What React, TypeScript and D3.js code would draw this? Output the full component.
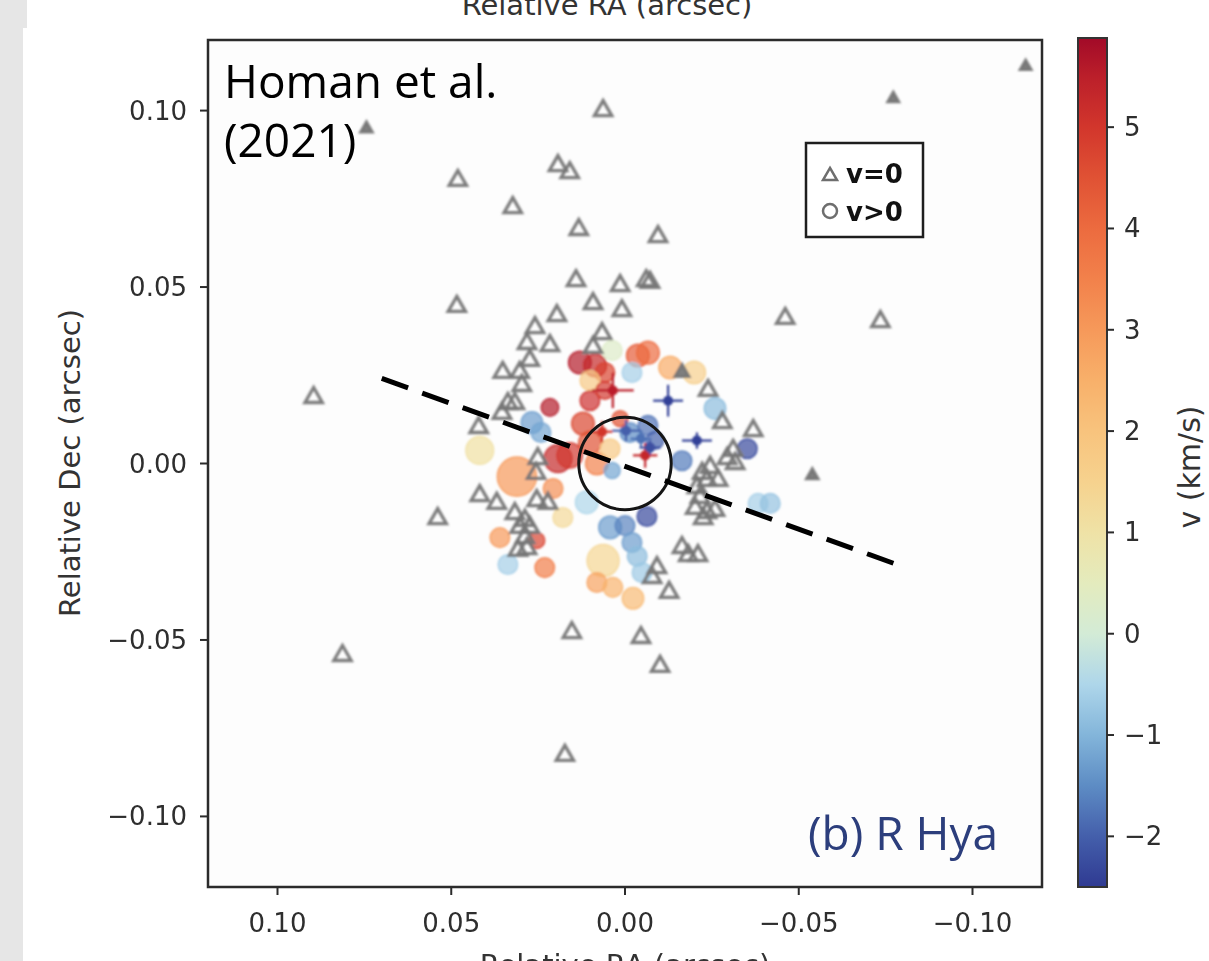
import React from 'react';
import * as d3 from 'd3';

// ---------- data ----------
const xTicks = [0.1, 0.05, 0, -0.05, -0.1];
const yTicks = [0.1, 0.05, 0, -0.05, -0.1];
const cbTicks = [5, 4, 3, 2, 1, 0, -1, -2];
const vRange = [-2.5, 5.88];

// v = 0 components (triangles)
const triX = [-0.1153, -0.0772, 0.0744, 0.0063, 0.0481, 0.0193, 0.0159, 0.0323, 0.0133, -0.0095,
  0.0141, 0.0014, -0.0061, -0.0072, 0.0484, 0.0092, 0.0009, 0.0196, -0.0461, -0.0735,
  0.0259, 0.0282, 0.0216, 0.0066, 0.0092, 0.0274, 0.0352, 0.0303, 0.0297, 0.0337,
  0.0317, 0.0354, 0.0421, 0.0896, 0.0251, 0.0256, 0.0418, 0.0369, 0.0539, 0.0317,
  0.0254, 0.0222, 0.0288, 0.0303, 0.0274, 0.0288, 0.0282, 0.0308, 0.0813, 0.0153,
  -0.0046, -0.0101, 0.0173, -0.0539, -0.0164, -0.0239, -0.0280, -0.0369, -0.0311, -0.0294,
  -0.0245, -0.0222, -0.0236, -0.0268, -0.0207, -0.0202, -0.0236, -0.0259, -0.0225, -0.0164,
  -0.0182, -0.0210, -0.0092, -0.0078, -0.0127, -0.0317, -0.0216];
const triY = [0.1125, 0.1034, 0.0949, 0.1000, 0.0802, 0.0844, 0.0824, 0.0725, 0.0663, 0.0643,
  0.0518, 0.0504, 0.0518, 0.0513, 0.0445, 0.0453, 0.0433, 0.0419, 0.0411, 0.0402,
  0.0385, 0.0340, 0.0334, 0.0368, 0.0329, 0.0292, 0.0258, 0.0258, 0.0221, 0.0170,
  0.0170, 0.0142, 0.0102, 0.0187, 0.0014, -0.0028, -0.0091, -0.0113, -0.0156, -0.0142,
  -0.0105, -0.0113, -0.0161, -0.0181, -0.0181, -0.0210, -0.0241, -0.0246, -0.0544, -0.0479,
  -0.0493, -0.0575, -0.0827, -0.0034, 0.0258, 0.0207, 0.0116, 0.0093, 0.0037, 0.0014,
  -0.0011, -0.0028, -0.0048, -0.0048, -0.0068, -0.0127, -0.0139, -0.0133, -0.0156, -0.0238,
  -0.0261, -0.0261, -0.0295, -0.0323, -0.0365, 0.0000, -0.0096];
const triFlux = [0.35, 0.35, 0.4, 1, 1, 1, 1, 1, 1, 1,
  1, 1, 1, 1, 1, 1, 1, 1, 1, 1,
  1, 1, 1, 1, 1, 1, 1, 1, 1, 1,
  1, 1, 1, 1, 1, 1, 1, 1, 1, 1,
  1, 1, 1, 1, 1, 1, 1, 1, 1, 1,
  1, 1, 1, 0.4, 0.6, 1, 1, 1, 1, 1,
  1, 1, 1, 1, 1, 1, 1, 1, 1, 1,
  1, 1, 1, 1, 1, 1, 1];

// v > 0 components (circles)
const cirX = [0.0130, 0.0086, 0.0058, 0.0101, 0.0037, -0.0037, -0.0066, -0.0020, -0.0130, -0.0199,
  -0.0259, 0.0216, 0.0101, 0.0268, 0.0242, 0.0418, 0.0193, 0.0159, 0.0311, 0.0121,
  0.0101, 0.0081, 0.0043, 0.0037, -0.0014, -0.0066, -0.0086, 0.0014, -0.0352, -0.0164,
  -0.0063, -0.0383, -0.0418, 0.0110, 0.0179, 0.0043, 0.0000, -0.0020, -0.0035, -0.0049,
  0.0063, 0.0081, 0.0035, -0.0023, 0.0360, 0.0254, 0.0337, 0.0231, 0.0207, 0.0058];
const cirY = [0.0286, 0.0278, 0.0258, 0.0235, 0.0320, 0.0306, 0.0314, 0.0258, 0.0272, 0.0258,
  0.0156, 0.0159, 0.0178, 0.0116, 0.0088, 0.0037, 0.0014, 0.0023, -0.0037, 0.0113,
  0.0059, 0.0000, 0.0042, -0.0020, 0.0088, 0.0108, 0.0065, 0.0127, 0.0042, 0.0008,
  -0.0150, -0.0113, -0.0113, -0.0110, -0.0153, -0.0181, -0.0176, -0.0224, -0.0263, -0.0309,
  -0.0275, -0.0337, -0.0351, -0.0382, -0.0210, -0.0218, -0.0286, -0.0295, -0.0071, 0.0207];
const cirV = [5.6, 5.3, 4.8, 1.8, 0.3, 4.3, 4.0, -0.6, 2.6, 1.6,
  -0.9, 5.6, 5.1, -1.3, -1.2, 1.1, 5.3, 5.0, 3.0, 4.7,
  4.5, 3.5, 1.8, -1.2, -1.5, -1.8, -2.0, 4.5, -2.3, -1.7,
  -2.3, -0.6, -0.8, -0.5, 1.3, -1.3, -1.6, -1.3, -0.9, -0.7,
  1.4, 2.8, 2.4, 2.2, 3.0, 4.8, -0.6, 3.6, 3.2, 5.0];
const cirFlux = [2, 2, 1.5, 1.5, 1.5, 2, 2, 1.5, 2, 2,
  1.8, 1.2, 1.5, 1.8, 1.5, 3, 3, 2.5, 6, 2,
  2, 2, 1.5, 1, 1.5, 1.5, 1.2, 1, 1.5, 1.5,
  1.5, 1.5, 1.5, 2, 1.5, 2, 1.5, 1.5, 1.5, 1.5,
  4, 1.5, 1.5, 1.8, 1.5, 1, 1.5, 1.5, 1.5, 1.2];

// components with error bars
const errX = [0.0035, -0.0124, -0.0207, -0.0058, -0.0003, -0.0046, 0.0066, -0.0072];
const errY = [0.0207, 0.0178, 0.0065, 0.0023, 0.0093, 0.0070, 0.0090, 0.0045];
const errV = [5.5, -2.4, -2.4, 5.3, -2.0, -1.8, 5.0, -2.2];
const errDx = [0.0060, 0.0043, 0.0043, 0.0035, 0.0040, 0.0030, 0.0030, 0.0030];
const errDy = [0.0050, 0.0045, 0.0023, 0.0035, 0.0030, 0.0025, 0.0030, 0.0020];

// overlay: dashed axis line and stellar disk
const dashX = [0.0700, -0.0807];
const dashY = [0.0241, -0.0295];
const diskRadius = 0.0133;

// colour map as it appears on the reference colour bar (velocity -> colour)
const cmapV = [-2.5, -2, -1.5, -1, -0.5, 0, 0.5, 1, 1.5, 2, 2.5, 3, 3.5, 4, 4.5, 5, 5.5, 5.88];
const cmapC = ['#2f3a92', '#445fab', '#5d8cc4', '#83b5da', '#aed6ea', '#d3ebd6', '#e4ebbd', '#efe2a6',
  '#f6d28e', '#f8c37d', '#f8b06a', '#f6995a', '#f2814b', '#ec6b3f', '#e05234', '#d2362c', '#bb1f2a', '#a20a28'];

// ---------- layout ----------
const W = 1209, H = 961;
const PL = 208, PR = 1042, PT = 40, PB = 887;
const CBL = 1078, CBR = 1107, CBT = 38, CBB = 887;
const tickFont = 'DejaVu Sans, sans-serif';
const axisColor = '#2b2b2b';

export default function App() {
  const x = d3.scaleLinear().domain([0.12, -0.12]).range([PL, PR]);
  const y = d3.scaleLinear().domain([-0.12, 0.12]).range([PB, PT]);
  const cb = d3.scaleLinear().domain(vRange).range([CBB, CBT]);
  const color = d3.scaleLinear<string>().domain(cmapV).range(cmapC)
    .interpolate(d3.interpolateRgb).clamp(true);
  const rScale = d3.scaleSqrt().domain([0, 1]).range([0, 8]);
  const triSize = d3.scaleLinear().domain([0, 1]).range([0, 130]);
  const fmt = (v: number) => (v < 0 ? '\u2212' : '') + Math.abs(v).toFixed(2);
  const fmtInt = (v: number) => (v < 0 ? '\u2212' : '') + Math.abs(v).toString();

  const lineGen = d3.line<number>().x((_, i) => x(dashX[i])).y((_, i) => y(dashY[i]));
  const vMin = vRange[0], vMax = vRange[1];

  return (
    <svg width={W} height={H} style={{ position: 'absolute', left: 0, top: 0, display: 'block' }}>
      <defs>
        <linearGradient id="cbgrad" x1="0" y1="1" x2="0" y2="0">
          {cmapV.map((v, i) => (
            <stop key={i} offset={(v - vMin) / (vMax - vMin)} stopColor={cmapC[i]} />
          ))}
        </linearGradient>
        <filter id="soft" x="-20%" y="-20%" width="140%" height="140%">
          <feGaussianBlur stdDeviation="0.9" />
        </filter>
        <clipPath id="plotclip">
          <rect x={PL} y={PT} width={PR - PL} height={PB - PT} />
        </clipPath>
      </defs>
      <rect x={0} y={0} width={W} height={H} fill="#ffffff" />
      <rect x={0} y={0} width={23} height={H} fill="#e6e6e6" />
      <rect x={0} y={0} width={27} height={28} fill="#e6e6e6" />

      {/* top label, cut by the page edge as in the source */}
      <text x={607} y={15} textAnchor="middle" fontFamily={tickFont} fontSize={29} fill="#333">Relative RA (arcsec)</text>

      {/* plot area */}
      <rect x={PL} y={PT} width={PR - PL} height={PB - PT} fill="#fdfdfd" />
      <g clipPath="url(#plotclip)">
        <g filter="url(#soft)">
          {cirX.map((cx, i) => (
            <circle key={'c' + i} cx={x(cx)} cy={y(cirY[i])} r={rScale(cirFlux[i])}
              fill={color(cirV[i])} fillOpacity={0.7} stroke={color(cirV[i])} strokeOpacity={0.85} strokeWidth={1.5} />
          ))}
          {triX.map((tx, i) => (
            <path key={'t' + i} transform={`translate(${x(tx)},${y(triY[i])})`}
              d={d3.symbol().type(d3.symbolTriangle).size(triSize(triFlux[i]))() || ''}
              fill={triFlux[i] < 0.7 ? '#808080' : 'none'} stroke="#767676" strokeWidth={3.3} strokeOpacity={0.95} />
          ))}
          {errX.map((ex, i) => (
            <g key={'e' + i} stroke={color(errV[i])} strokeWidth={2.2}>
              <line x1={x(ex - errDx[i])} x2={x(ex + errDx[i])} y1={y(errY[i])} y2={y(errY[i])} />
              <line x1={x(ex)} x2={x(ex)} y1={y(errY[i] - errDy[i])} y2={y(errY[i] + errDy[i])} />
              <circle cx={x(ex)} cy={y(errY[i])} r={5} fill={color(errV[i])} stroke="none" />
            </g>
          ))}
        </g>
        <circle cx={x(0)} cy={y(0)} r={x(0) - x(diskRadius)} fill="none" stroke="#151515" strokeWidth={3} />
        <path d={lineGen([0, 1]) || ''} stroke="#000" strokeWidth={5} strokeDasharray="28 15" fill="none" />
      </g>
      <rect x={PL} y={PT} width={PR - PL} height={PB - PT} fill="none" stroke={axisColor} strokeWidth={2.5} />

      {/* x ticks */}
      {xTicks.map((t) => (
        <g key={'xt' + t}>
          <line x1={x(t)} x2={x(t)} y1={PB} y2={PB + 8} stroke={axisColor} strokeWidth={2} />
          <text x={x(t)} y={932} textAnchor="middle" fontFamily={tickFont} fontSize={26} fill="#2e2e2e">{fmt(t)}</text>
        </g>
      ))}
      {/* y ticks */}
      {yTicks.map((t) => (
        <g key={'yt' + t}>
          <line x1={PL - 8} x2={PL} y1={y(t)} y2={y(t)} stroke={axisColor} strokeWidth={2} />
          <text x={187} y={y(t) + 9} textAnchor="end" fontFamily={tickFont} fontSize={26} fill="#2e2e2e">{fmt(t)}</text>
        </g>
      ))}
      <text x={625} y={975} textAnchor="middle" fontFamily={tickFont} fontSize={29} fill="#333">Relative RA (arcsec)</text>
      <text transform="translate(80,463) rotate(-90)" textAnchor="middle" fontFamily={tickFont} fontSize={29} fill="#333">Relative Dec (arcsec)</text>

      {/* annotations */}
      <text x={224} y={98} fontFamily="Open Sans, sans-serif" fontSize={46} fill="#000">Homan et al.</text>
      <text x={224} y={157} fontFamily="Open Sans, sans-serif" fontSize={46} fill="#000">(2021)</text>
      <text x={808} y={850} fontFamily="Open Sans, sans-serif" fontSize={46} fill="#2c3e7c">(b) R Hya</text>

      {/* legend */}
      <rect x={806} y={143} width={117} height={94} fill="#fff" stroke="#1e1e1e" strokeWidth={2.5} />
      <path transform="translate(830,176)" d={d3.symbol().type(d3.symbolTriangle).size(85)() || ''} fill="none" stroke="#6e6e6e" strokeWidth={2.5} />
      <circle cx={830} cy={211} r={7} fill="none" stroke="#6e6e6e" strokeWidth={2.5} />
      <text x={846} y={183} fontFamily={tickFont} fontSize={26} fontWeight="bold" fill="#111">v=0</text>
      <text x={846} y={221} fontFamily={tickFont} fontSize={26} fontWeight="bold" fill="#111">v&gt;0</text>

      {/* colorbar */}
      <rect x={CBL} y={CBT} width={CBR - CBL} height={CBB - CBT} fill="url(#cbgrad)" stroke="#333" strokeWidth={2} />
      {cbTicks.map((t) => (
        <g key={'cb' + t}>
          <line x1={CBR} x2={CBR + 7} y1={cb(t)} y2={cb(t)} stroke={axisColor} strokeWidth={2} />
          <text x={1124} y={cb(t) + 9} fontFamily={tickFont} fontSize={26} fill="#2e2e2e">{fmtInt(t)}</text>
        </g>
      ))}
      <text transform="translate(1200,467) rotate(-90)" textAnchor="middle" fontFamily={tickFont} fontSize={30} fill="#333">v (km/s)</text>
    </svg>
  );
}
